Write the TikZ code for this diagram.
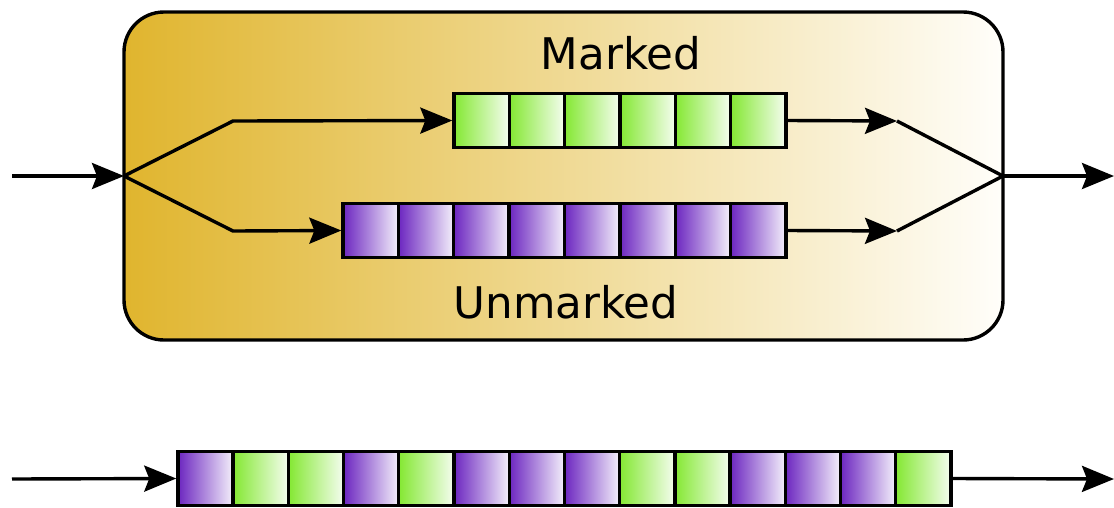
\documentclass[tikz,border=0pt]{standalone}
\usepackage{fontspec}
\setmainfont{DejaVu Sans}
\usetikzlibrary{arrows.meta}
\definecolor{gold}{RGB}{224,181,46}
\definecolor{goldend}{RGB}{255,254,250}
\definecolor{pur}{RGB}{108,38,192}
\definecolor{purend}{RGB}{244,240,251}
\definecolor{grn}{RGB}{132,232,50}
\definecolor{grnend}{RGB}{245,253,240}
\begin{document}
\begin{tikzpicture}[x=1pt,y=-1pt,
  line width=3.4pt,
  cell/.style={draw=black, line width=3.4pt, inner sep=0pt, minimum width=55.3pt, minimum height=54pt, shading angle=0},
  pcell/.style={cell, left color=pur, right color=purend},
  gcell/.style={cell, left color=grn, right color=grnend},
  arr/.style={-{Stealth[length=32pt 0,width=26pt 0,inset=5pt 0]}, line width=3.4pt},
  lbl/.style={font=\fontsize{43.6}{50}\selectfont, anchor=base, inner sep=0pt}]
\useasboundingbox (0,0) rectangle (1114,507);
% container
\draw[line width=3.4pt, rounded corners=40pt, left color=gold, right color=goldend] (124,12) rectangle (1003,340);
\node[lbl] (marked) at (621,69) {Marked};
\node[lbl] (unmarked) at (566,318) {Unmarked};
% green queue
\foreach \i in {1,...,6} {
  \node[gcell] (g\i) at ({454+55.33*(\i-0.5)},120.5) {};
}
% purple queue
\foreach \i in {1,...,8} {
  \node[pcell] (p\i) at ({343+55.375*(\i-0.5)},230.5) {};
}
% coordinates
\coordinate (in) at (12,176);
\coordinate (split) at (124,176);
\coordinate (gk) at (233,121);
\coordinate (pk) at (233,231);
\coordinate (go) at (897,121);
\coordinate (po) at (897,231);
\coordinate (merge) at (1003,176);
\coordinate (out) at (1114,176);
\draw[arr] (in) -- (split);
\draw[arr] (split) -- (gk) -- (g1.west);
\draw[arr] (split) -- (pk) -- (p1.west);
\draw[arr] (g6.east) -- (go);
\draw[arr] (p8.east) -- (po);
\draw (go) -- (merge) -- (po);
\draw[arr] (merge) -- (out);
% bottom queue
\foreach \c [count=\i] in {p,g,g,p,g,p,p,p,g,g,p,p,p,g} {
  \node[\c cell] (b\i) at ({178+55.21*(\i-0.5)},478.5) {};
}
\coordinate (bin) at (12,479);
\coordinate (bout) at (1114,479);
\draw[arr] (bin) -- (b1.west);
\draw[arr] (b14.east) -- (bout);
\end{tikzpicture}
\end{document}
